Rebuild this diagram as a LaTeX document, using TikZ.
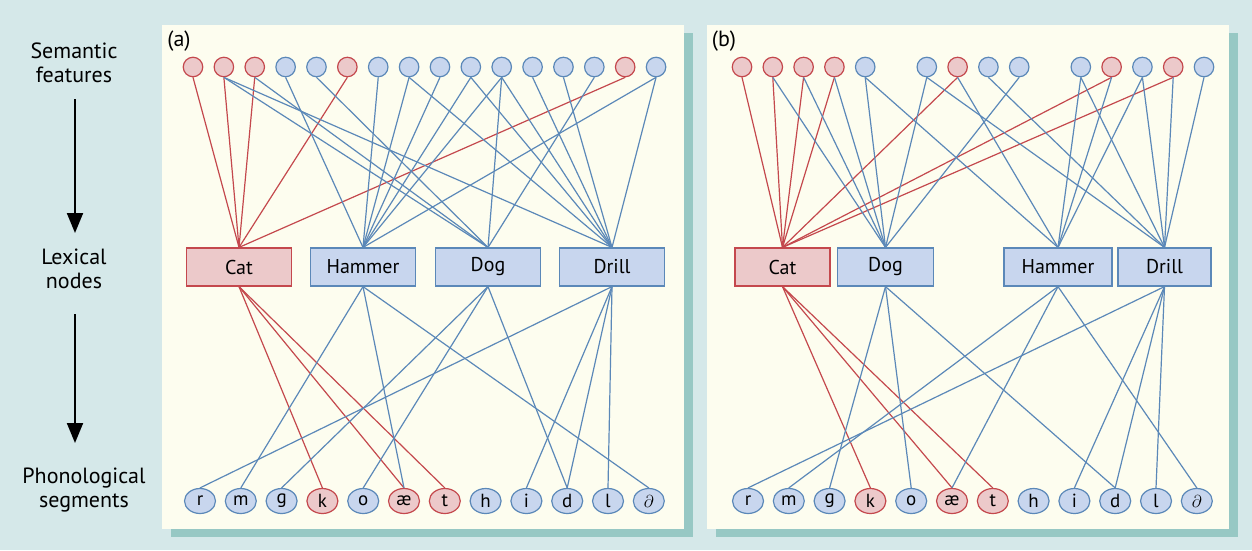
\documentclass[tikz,border=0pt]{standalone}
\usepackage{fontspec}
\setmainfont{PT Sans}
\usetikzlibrary{shapes.geometric,arrows.meta}
\definecolor{bg}{HTML}{D5E8E9}
\definecolor{panel}{HTML}{FDFDEF}
\definecolor{shadowc}{HTML}{97C8C4}
\definecolor{rfill}{HTML}{ECC9CA}
\definecolor{rline}{HTML}{C4484D}
\definecolor{bfill}{HTML}{C8D6EE}
\definecolor{bline}{HTML}{5B88B8}
\begin{document}
\begin{tikzpicture}[x=1pt,y=-1pt,
  lbl/.style={align=center,inner sep=0pt,font=\fontsize{22}{24.5}\selectfont},
  featR/.style={circle,minimum size=19.5pt,inner sep=0pt,fill=rfill,draw=rline,line width=1.2pt},
  featB/.style={circle,minimum size=19.5pt,inner sep=0pt,fill=bfill,draw=bline,line width=1.2pt},
  lexR/.style={rectangle,minimum height=38pt,inner sep=0pt,fill=rfill,draw=rline,line width=1.2pt,font=\fontsize{20}{22}\selectfont},
  lexB/.style={rectangle,minimum height=38pt,inner sep=0pt,fill=bfill,draw=bline,line width=1.2pt,font=\fontsize{20}{22}\selectfont},
  segR/.style={ellipse,minimum width=31pt,minimum height=25pt,inner sep=0pt,fill=rfill,draw=rline,line width=1.2pt,font=\fontsize{19}{20}\selectfont},
  segB/.style={ellipse,minimum width=31pt,minimum height=25pt,inner sep=0pt,fill=bfill,draw=bline,line width=1.2pt,font=\fontsize{19}{20}\selectfont},
  redl/.style={draw=rline,line width=1.2pt},
  bluel/.style={draw=bline,line width=1.2pt},
  bigarrow/.style={line width=2pt,-{Triangle[width=16pt,length=20pt]}},
  plabel/.style={inner sep=0pt,font=\fontsize{22}{24}\selectfont}]
\useasboundingbox (0,0) rectangle (1252,550);
\fill[bg] (0,0) rectangle (1252,550);
% panels
\fill[shadowc] (171,33) rectangle (693,537);
\fill[panel] (162,25) rectangle (684,529);
\fill[shadowc] (716,33) rectangle (1238,537);
\fill[panel] (707,25) rectangle (1229,529);
% left labels
\node[lbl] (sem) at (74,63) {Semantic\\features};
\node[lbl] (lexl) at (74,269) {Lexical\\nodes};
\node[lbl] (phon) at (84,490) {Phonological\\segments};
\coordinate (ar1s) at (75,99);
\coordinate (ar1e) at (75,233);
\coordinate (ar2s) at (75,314);
\coordinate (ar2e) at (75,443);
\draw[bigarrow] (ar1s) -- (ar1e);
\draw[bigarrow] (ar2s) -- (ar2e);
\node[plabel] (pa) at (179,41) {(a)};
\node[plabel] (pb) at (724,41) {(b)};
% ---------- panel (a) ----------
\foreach \i/\c in {1/R,2/R,3/R,4/B,5/B,6/R,7/B,8/B,9/B,10/B,11/B,12/B,13/B,14/B,15/R,16/B}
  {\node[feat\c] (a\i) at ({193+30.87*(\i-1)},67) {};}
\node[lexR,minimum width=105pt] (aCat) at (239,267) {Cat};
\node[lexB,minimum width=105pt] (aHam) at (363,267) {Hammer};
\node[lexB,minimum width=105pt] (aDog) at (488,267) {Dog};
\node[lexB,minimum width=105pt] (aDri) at (612,267) {Drill};
\foreach \j/\t/\c in {1/r/B,2/m/B,3/g/B,4/k/R,5/o/B,6/æ/R,7/t/R,8/h/B,9/i/B,10/d/B,11/l/B,12/$\partial$/B}
  {\node[seg\c] (aS\j) at ({200+40.8*(\j-1)},501) {\t};}
\foreach \i in {1,2,3,6,15} \draw[redl] (a\i.south) -- (aCat.north);
\foreach \i in {4,7,8,9,10,11,16} \draw[bluel] (a\i.south) -- (aHam.north);
\foreach \i in {2,3,5,11,14} \draw[bluel] (a\i.south) -- (aDog.north);
\foreach \i in {2,8,10,11,12,13,16} \draw[bluel] (a\i.south) -- (aDri.north);
\foreach \j in {4,6,7} \draw[redl] (aCat.south) -- (aS\j.north);
\foreach \j in {2,6,12} \draw[bluel] (aHam.south) -- (aS\j.north);
\foreach \j in {3,5,10} \draw[bluel] (aDog.south) -- (aS\j.north);
\foreach \j in {1,9,10,11} \draw[bluel] (aDri.south) -- (aS\j.north);
% ---------- panel (b) ----------
\foreach \i/\c in {1/R,2/R,3/R,4/R,5/B,7/B,8/R,9/B,10/B,12/B,13/R,14/B,15/R,16/B}
  {\node[feat\c] (b\i) at ({742+30.8*(\i-1)},67) {};}
\node[lexR,minimum width=95pt] (bCat) at (782.5,267) {Cat};
\node[lexB,minimum width=96pt] (bDog) at (885.5,267) {Dog};
\node[lexB,minimum width=108pt] (bHam) at (1058,267) {Hammer};
\node[lexB,minimum width=93pt] (bDri) at (1164.5,267) {Drill};
\foreach \j/\t/\c in {1/r/B,2/m/B,3/g/B,4/k/R,5/o/B,6/æ/R,7/t/R,8/h/B,9/i/B,10/d/B,11/l/B,12/$\partial$/B}
  {\node[seg\c] (bS\j) at ({748+40.8*(\j-1)},501) {\t};}
\foreach \i in {1,2,3,4,8,13,15} \draw[redl] (b\i.south) -- (bCat.north);
\foreach \i in {2,3,4,5,7,10} \draw[bluel] (b\i.south) -- (bDog.north);
\foreach \i in {5,8,12,13,14} \draw[bluel] (b\i.south) -- (bHam.north);
\foreach \i in {7,9,12,14,15,16} \draw[bluel] (b\i.south) -- (bDri.north);
\foreach \j in {4,6,7} \draw[redl] (bCat.south) -- (bS\j.north);
\foreach \j in {3,5,10} \draw[bluel] (bDog.south) -- (bS\j.north);
\foreach \j in {2,6,12} \draw[bluel] (bHam.south) -- (bS\j.north);
\foreach \j in {1,9,10,11} \draw[bluel] (bDri.south) -- (bS\j.north);
\end{tikzpicture}
\end{document}
